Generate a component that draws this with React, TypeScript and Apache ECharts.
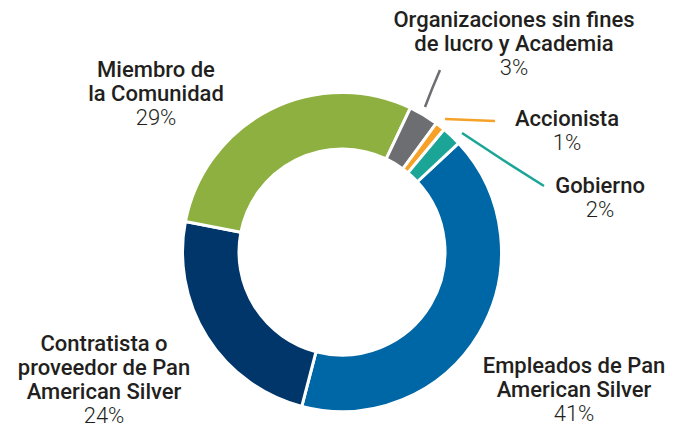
import React, { useEffect, useRef } from "react";
import * as echarts from "echarts";

const categories = [
  "Empleados de Pan\nAmerican Silver",
  "Contratista o\nproveedor de Pan\nAmerican Silver",
  "Miembro de\nla Comunidad",
  "Organizaciones sin fines\nde lucro y Academia",
  "Accionista",
  "Gobierno",
];
const values = [41, 24, 29, 3, 1, 2];
const colors = ["#0067A6", "#003669", "#8DB040", "#6D6E71", "#F6A228", "#1AA597"];

// label block centres (layout only)
const labelPos = [
  [574, 389],
  [104, 379],
  [156, 93],
  [514, 43],
  [567, 130],
  [600, 197],
];
const leaderLines: (number[][] | null)[] = [
  null,
  null,
  null,
  [[425, 107], [432, 89], [440, 70]],
  [[445, 119], [470, 120], [495, 121]],
  [[462, 133], [503, 160], [544, 186]],
];

export default function App() {
  const ref = useRef<HTMLDivElement>(null);
  useEffect(() => {
    if (!ref.current) return;
    const chart = echarts.init(ref.current, undefined, { renderer: "svg" });
    chart.setOption({
      animation: false,
      backgroundColor: "#ffffff",
      series: [
        {
          type: "pie",
          center: [342, 252],
          radius: [103, 159.5],
          startAngle: 43,
          clockwise: true,
          avoidLabelOverlap: false,
          itemStyle: { borderColor: "#ffffff", borderWidth: 3 },
          label: {
            show: true,
            position: "outside",
            formatter: (p: any) =>
              p.name
                .split("\n")
                .map((l: string) => `{n|${l}}`)
                .join("\n") + `\n{p|${p.value}%}`,
            rich: {
              n: {
                fontFamily: "Roboto",
                fontWeight: 500,
                fontSize: 22,
                lineHeight: 24,
                color: "#231F20",
                align: "center",
              },
              p: {
                fontFamily: "Roboto",
                fontWeight: 300,
                fontSize: 22,
                lineHeight: 24,
                color: "#231F20",
                align: "center",
              },
            },
          },
          labelLine: { show: true, lineStyle: { width: 2.5 } },
          labelLayout: (params: any) => {
            const i = params.dataIndex;
            const out: any = {
              x: labelPos[i][0],
              y: labelPos[i][1],
              align: "center",
              verticalAlign: "middle",
            };
            if (leaderLines[i]) out.labelLinePoints = leaderLines[i];
            return out;
          },
          data: categories.map((name, i) => ({
            name,
            value: values[i],
            itemStyle: { color: colors[i] },
            labelLine: { show: !!leaderLines[i], lineStyle: { color: colors[i], width: 2.5 } },
          })),
        },
      ],
    });
    return () => chart.dispose();
  }, []);
  return (
    <div
      ref={ref}
      style={{ position: "fixed", left: 0, top: 0, width: 683, height: 427 }}
    />
  );
}
